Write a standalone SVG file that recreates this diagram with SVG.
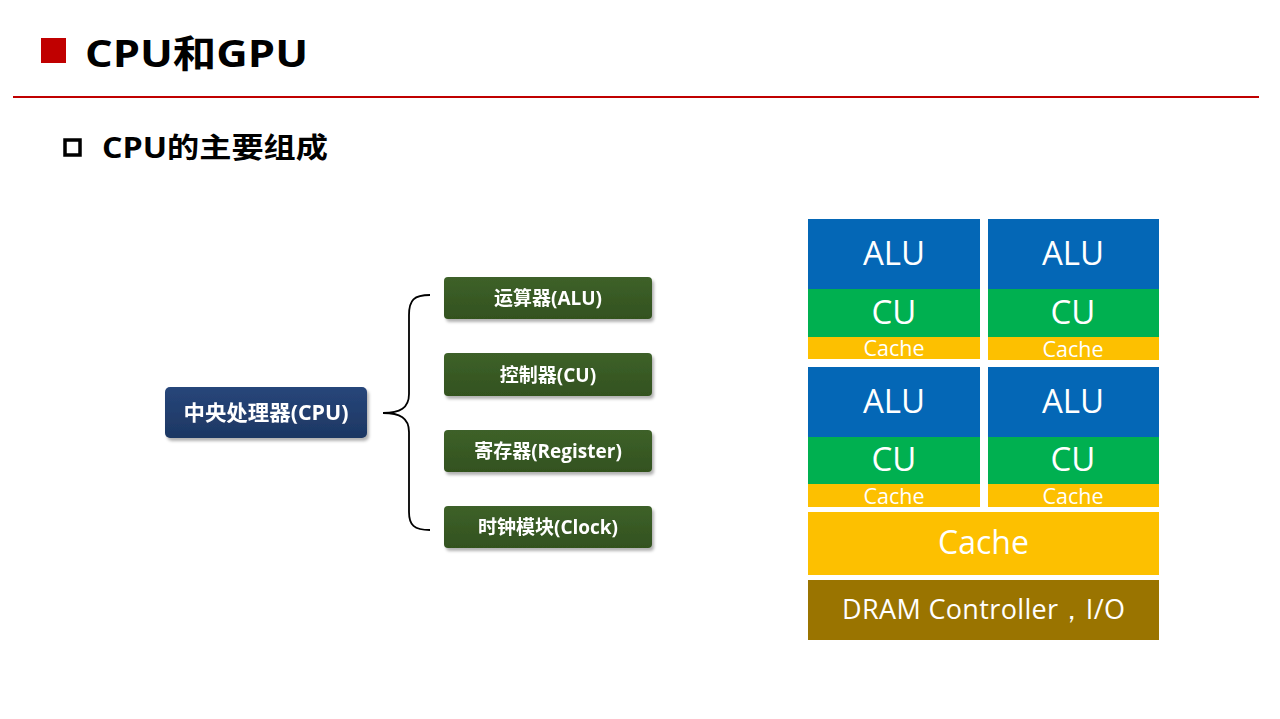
<svg xmlns="http://www.w3.org/2000/svg" width="1280" height="719" viewBox="0 0 1280 719">
<style>
.h{font-family:"Open Sans","Noto Sans CJK SC",sans-serif;font-weight:bold;fill:#000}
.lb{font-family:"Open Sans","Noto Sans CJK SC",sans-serif;font-weight:bold;fill:#fff;text-anchor:middle}
.bl{font-family:"Open Sans","Noto Sans",sans-serif;fill:#fff;text-anchor:middle}
.alu{fill:#0467B6}
.cu{fill:#00B050}
.ca{fill:#FDC000}
.dr{fill:#9A7400}
.gb{fill:url(#gg)}
</style>
<defs>
<linearGradient id="bg" x1="0" y1="0" x2="0" y2="1"><stop offset="0" stop-color="#27467A"/><stop offset="1" stop-color="#1D3763"/></linearGradient>
<linearGradient id="gg" x1="0" y1="0" x2="0" y2="1"><stop offset="0" stop-color="#3D6129"/><stop offset="1" stop-color="#33521F"/></linearGradient>
<filter id="sh" x="-10%" y="-20%" width="130%" height="160%"><feDropShadow dx="2" dy="3" stdDeviation="1.5" flood-color="#000" flood-opacity="0.3"/></filter>
</defs>
<rect width="1280" height="719" fill="#fff"/>
<g id="title">
<rect x="41" y="38" width="25" height="25" fill="#C00000"/>
<text class="h" x="85" y="67" font-size="38" textLength="223" lengthAdjust="spacingAndGlyphs">CPU和GPU</text>
<rect x="13" y="96" width="1246" height="2" fill="#C00000"/>
</g>
<g id="subtitle">
<rect x="65" y="140" width="15" height="15" fill="none" stroke="#000" stroke-width="3.5"/>
<text class="h" x="102" y="158" font-size="28" textLength="226" lengthAdjust="spacingAndGlyphs">CPU的主要组成</text>
</g>
<g id="connectors">
<path d="M430,295 C414,295 409,300 409,315 L409,394 C409,408 400,413 383,413 C400,413 409,418 409,432 L409,512 C409,525 414,530 430,530" fill="none" stroke="#000" stroke-width="1.8"/>
</g>
<g id="cpu" filter="url(#sh)">
<rect x="165" y="387" width="202" height="51" rx="5" fill="url(#bg)"/>
<text class="lb" x="266" y="420" font-size="21" textLength="165" lengthAdjust="spacingAndGlyphs">中央处理器(CPU)</text>
</g>
<g id="alu-node" filter="url(#sh)">
<rect class="gb" x="444" y="277" width="208" height="42" rx="4"/>
<text class="lb" x="548" y="304.5" font-size="19">运算器(ALU)</text>
</g>
<g id="cu-node" filter="url(#sh)">
<rect class="gb" x="444" y="353" width="208" height="43" rx="4"/>
<text class="lb" x="548" y="381.5" font-size="19">控制器(CU)</text>
</g>
<g id="reg-node" filter="url(#sh)">
<rect class="gb" x="444" y="430" width="208" height="42" rx="4"/>
<text class="lb" x="548" y="457.5" font-size="19">寄存器(Register)</text>
</g>
<g id="clock-node" filter="url(#sh)">
<rect class="gb" x="444" y="506" width="208" height="42" rx="4"/>
<text class="lb" x="548" y="533.5" font-size="19">时钟模块(Clock)</text>
</g>
<g id="core1">
<rect class="alu" x="808" y="219" width="172" height="70"/>
<rect class="cu" x="808" y="289" width="172" height="48"/>
<rect class="ca" x="808" y="337" width="172" height="22"/>
<text class="bl" x="894" y="265" font-size="33">ALU</text>
<text class="bl" x="894" y="324" font-size="33">CU</text>
<text class="bl" x="894" y="355.5" font-size="21.5">Cache</text>
</g>
<g id="core2">
<rect class="alu" x="988" y="219" width="171" height="70"/>
<rect class="cu" x="988" y="289" width="171" height="48"/>
<rect class="ca" x="988" y="337" width="171" height="23"/>
<text class="bl" x="1073" y="265" font-size="33">ALU</text>
<text class="bl" x="1073" y="324" font-size="33">CU</text>
<text class="bl" x="1073" y="356.5" font-size="21.5">Cache</text>
</g>
<g id="core3">
<rect class="alu" x="808" y="367" width="172" height="70"/>
<rect class="cu" x="808" y="437" width="172" height="47"/>
<rect class="ca" x="808" y="484" width="172" height="23"/>
<text class="bl" x="894" y="413" font-size="33">ALU</text>
<text class="bl" x="894" y="471" font-size="33">CU</text>
<text class="bl" x="894" y="503.5" font-size="21.5">Cache</text>
</g>
<g id="core4">
<rect class="alu" x="988" y="367" width="171" height="70"/>
<rect class="cu" x="988" y="437" width="171" height="47"/>
<rect class="ca" x="988" y="484" width="171" height="23"/>
<text class="bl" x="1073" y="413" font-size="33">ALU</text>
<text class="bl" x="1073" y="471" font-size="33">CU</text>
<text class="bl" x="1073" y="503.5" font-size="21.5">Cache</text>
</g>
<g id="cache">
<rect class="ca" x="808" y="512" width="351" height="63"/>
<text class="bl" x="983.5" y="554" font-size="32">Cache</text>
</g>
<g id="dram">
<rect class="dr" x="808" y="580" width="351" height="60"/>
<text class="bl" x="983.5" y="619" font-size="27" textLength="283" lengthAdjust="spacing">DRAM Controller，I/O</text>
</g>
</svg>
